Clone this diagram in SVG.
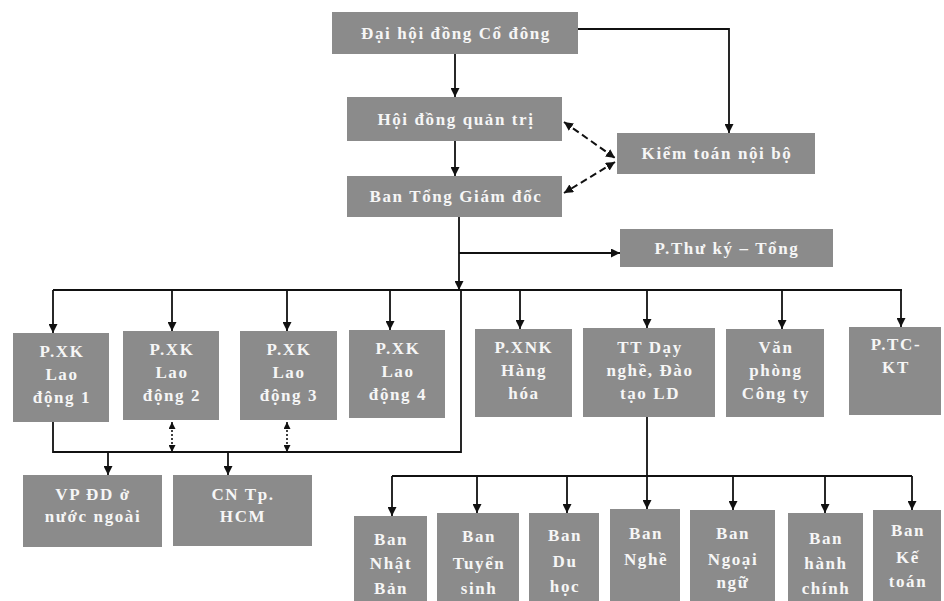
<svg xmlns="http://www.w3.org/2000/svg" width="944" height="601" viewBox="0 0 944 601">
<style>
.box{fill:#8b8b8b;}
.t{font-family:"Liberation Serif","Times New Roman",serif;font-weight:bold;font-size:17px;fill:#f6f6f6;text-anchor:middle;letter-spacing:1.6px;}
.ln{stroke:#111;stroke-width:1.8;fill:none;}
.dash{stroke:#111;stroke-width:2;fill:none;stroke-dasharray:7,4;}
.dot{stroke:#111;stroke-width:1.6;fill:none;stroke-dasharray:2,2;}
</style>
<defs>
<marker id="ah" viewBox="0 0 10 10" refX="10" refY="5" markerWidth="9" markerHeight="9" markerUnits="userSpaceOnUse" orient="auto-start-reverse"><path d="M0,0 L10,5 L0,10 z" fill="#111"/></marker>
<marker id="ahs" viewBox="0 0 10 10" refX="10" refY="5" markerWidth="7" markerHeight="7" markerUnits="userSpaceOnUse" orient="auto-start-reverse"><path d="M0,0 L10,5 L0,10 z" fill="#111"/></marker>
</defs>
<rect width="944" height="601" fill="#ffffff"/>

<g id="connectors">
<line class="ln" x1="455" y1="54" x2="455" y2="97" marker-end="url(#ah)"/>
<polyline class="ln" points="578,29 729,29 729,133" marker-end="url(#ah)"/>
<line class="ln" x1="455" y1="141" x2="455" y2="176" marker-end="url(#ah)"/>
<line class="dash" x1="564" y1="122" x2="615" y2="158" marker-start="url(#ah)" marker-end="url(#ah)"/>
<line class="dash" x1="615" y1="162" x2="564" y2="193" marker-start="url(#ah)" marker-end="url(#ah)"/>
<line class="ln" x1="459" y1="217" x2="459" y2="290" marker-end="url(#ah)"/>
<line class="ln" x1="459" y1="253" x2="620" y2="253" marker-end="url(#ah)"/>
<line class="ln" x1="53" y1="290" x2="902" y2="290"/>
<line class="ln" x1="53" y1="290" x2="53" y2="333" marker-end="url(#ah)"/>
<line class="ln" x1="172" y1="290" x2="172" y2="331" marker-end="url(#ah)"/>
<line class="ln" x1="287" y1="290" x2="287" y2="331" marker-end="url(#ah)"/>
<line class="ln" x1="390" y1="290" x2="390" y2="330" marker-end="url(#ah)"/>
<line class="ln" x1="520" y1="290" x2="520" y2="329" marker-end="url(#ah)"/>
<line class="ln" x1="647" y1="290" x2="647" y2="328" marker-end="url(#ah)"/>
<line class="ln" x1="782" y1="290" x2="782" y2="329" marker-end="url(#ah)"/>
<line class="ln" x1="901" y1="290" x2="901" y2="327" marker-end="url(#ah)"/>
<polyline class="ln" points="461,290 461,452 53,452 53,422"/>
<line class="dot" x1="172" y1="422" x2="172" y2="452" marker-start="url(#ahs)" marker-end="url(#ahs)"/>
<line class="dot" x1="287" y1="422" x2="287" y2="452" marker-start="url(#ahs)" marker-end="url(#ahs)"/>
<line class="ln" x1="108" y1="452" x2="108" y2="475" marker-end="url(#ah)"/>
<line class="ln" x1="228" y1="452" x2="228" y2="475" marker-end="url(#ah)"/>
<line class="ln" x1="647" y1="417" x2="647" y2="509" marker-end="url(#ah)"/>
<line class="ln" x1="392" y1="476" x2="912" y2="476"/>
<line class="ln" x1="392" y1="476" x2="392" y2="516" marker-end="url(#ah)"/>
<line class="ln" x1="477" y1="476" x2="477" y2="513" marker-end="url(#ah)"/>
<line class="ln" x1="567" y1="476" x2="567" y2="513" marker-end="url(#ah)"/>
<line class="ln" x1="733" y1="476" x2="733" y2="510" marker-end="url(#ah)"/>
<line class="ln" x1="825" y1="476" x2="825" y2="513" marker-end="url(#ah)"/>
<line class="ln" x1="912" y1="476" x2="912" y2="510" marker-end="url(#ah)"/>
</g>

<g id="dhcd"><rect class="box" x="332" y="12" width="246" height="42"/><text class="t" x="456" y="39">Đại hội đồng Cổ đông</text></g>
<g id="hdqt"><rect class="box" x="347" y="97" width="215" height="44"/><text class="t" x="456" y="125">Hội đồng quản trị</text></g>
<g id="ktnb"><rect class="box" x="617" y="133" width="198" height="41"/><text class="t" x="717" y="159">Kiểm toán nội bộ</text></g>
<g id="btgd"><rect class="box" x="347" y="176" width="215" height="41"/><text class="t" x="456" y="202">Ban Tổng Giám đốc</text></g>
<g id="ptk"><rect class="box" x="620" y="229" width="213" height="38"/><text class="t" x="727" y="254">P.Thư ký – Tổng</text></g>

<g id="xk1"><rect class="box" x="13" y="333" width="96" height="89"/><text class="t" x="62" y="357">P.XK</text><text class="t" x="62" y="380">Lao</text><text class="t" x="62" y="403">động 1</text></g>
<g id="xk2"><rect class="box" x="123" y="331" width="96" height="89"/><text class="t" x="172" y="355">P.XK</text><text class="t" x="172" y="378">Lao</text><text class="t" x="172" y="401">động 2</text></g>
<g id="xk3"><rect class="box" x="240" y="331" width="97" height="89"/><text class="t" x="289" y="355">P.XK</text><text class="t" x="289" y="378">Lao</text><text class="t" x="289" y="401">động 3</text></g>
<g id="xk4"><rect class="box" x="349" y="330" width="96" height="88"/><text class="t" x="398" y="354">P.XK</text><text class="t" x="398" y="377">Lao</text><text class="t" x="398" y="400">động 4</text></g>
<g id="xnk"><rect class="box" x="475" y="329" width="97" height="88"/><text class="t" x="524" y="353">P.XNK</text><text class="t" x="524" y="376">Hàng</text><text class="t" x="524" y="399">hóa</text></g>
<g id="ttdn"><rect class="box" x="583" y="328" width="132" height="89"/><text class="t" x="650" y="353">TT Dạy</text><text class="t" x="650" y="376">nghề, Đào</text><text class="t" x="650" y="399">tạo LD</text></g>
<g id="vpct"><rect class="box" x="726" y="329" width="98" height="88"/><text class="t" x="776" y="353">Văn</text><text class="t" x="776" y="376">phòng</text><text class="t" x="776" y="399">Công ty</text></g>
<g id="tckt"><rect class="box" x="849" y="327" width="92" height="88"/><text class="t" x="896" y="350">P.TC-</text><text class="t" x="896" y="373">KT</text></g>

<g id="vpdd"><rect class="box" x="23" y="475" width="139" height="72"/><text class="t" x="93" y="500">VP ĐD ở</text><text class="t" x="93" y="522">nước ngoài</text></g>
<g id="cnhcm"><rect class="box" x="173" y="475" width="139" height="71"/><text class="t" x="243" y="500">CN Tp.</text><text class="t" x="243" y="522">HCM</text></g>

<g id="ban1"><rect class="box" x="354" y="516" width="73" height="85"/><text class="t" x="391" y="545">Ban</text><text class="t" x="391" y="569">Nhật</text><text class="t" x="391" y="594">Bản</text></g>
<g id="ban2"><rect class="box" x="437" y="513" width="82" height="88"/><text class="t" x="479" y="542">Ban</text><text class="t" x="479" y="569">Tuyển</text><text class="t" x="479" y="594">sinh</text></g>
<g id="ban3"><rect class="box" x="529" y="513" width="70" height="88"/><text class="t" x="565" y="541">Ban</text><text class="t" x="565" y="567">Du</text><text class="t" x="565" y="592">học</text></g>
<g id="ban4"><rect class="box" x="610" y="509" width="70" height="92"/><text class="t" x="646" y="539">Ban</text><text class="t" x="646" y="565">Nghề</text></g>
<g id="ban5"><rect class="box" x="690" y="510" width="85" height="91"/><text class="t" x="733" y="539">Ban</text><text class="t" x="733" y="565">Ngoại</text><text class="t" x="733" y="588">ngữ</text></g>
<g id="ban6"><rect class="box" x="788" y="513" width="75" height="88"/><text class="t" x="826" y="544">Ban</text><text class="t" x="826" y="569">hành</text><text class="t" x="826" y="594">chính</text></g>
<g id="ban7"><rect class="box" x="873" y="510" width="68" height="91"/><text class="t" x="908" y="536">Ban</text><text class="t" x="908" y="563">Kế</text><text class="t" x="908" y="587">toán</text></g>
</svg>
